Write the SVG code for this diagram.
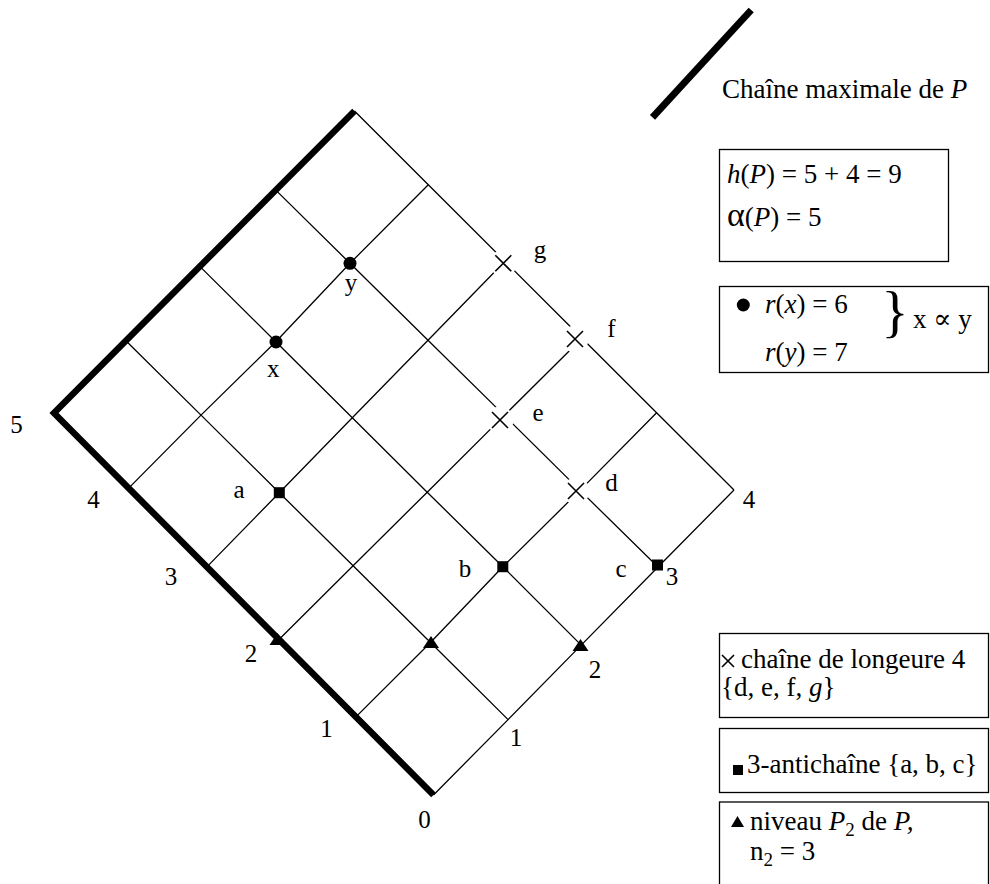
<svg xmlns="http://www.w3.org/2000/svg" width="990" height="884" viewBox="0 0 990 884">
<defs>
<style>
.g{stroke:#000;stroke-width:1.3;fill:none;stroke-linejoin:round}
.thick{stroke:#000;stroke-width:6.5;fill:none;stroke-linejoin:miter;stroke-linecap:butt}
.t{font-family:"Liberation Serif","Times New Roman","DejaVu Serif",serif;font-size:25px;fill:#000}
.bt{font-family:"Liberation Serif","Times New Roman","DejaVu Serif",serif;font-size:27px;fill:#000}
.i{font-style:italic}
.box{fill:none;stroke:#000;stroke-width:1.3}
.cr{stroke:#000;stroke-width:1.6;fill:none}
.halo{fill:#fff;stroke:none}
</style>
<g id="crossMark"><circle class="halo" r="13.5"/><path class="cr" d="M-8,-8L8,8M8,-8L-8,8"/></g>
</defs>
<rect width="990" height="884" fill="#fff"/>

<g id="connectors">
<polyline class="g" points="433.5,795 508.1,719.6 581.2,645.1 658,567 734,490"/>
<polyline class="g" points="734,490 656.6,412.7 582,338.2 505,261.3 428.3,184.7 354.5,111"/>
<polyline class="g" points="355.7,717.1 430.5,642.5 502.8,566.7 580,490.4 656.6,412.7"/>
<polyline class="g" points="279,639.5 353.1,565.8 427.2,492.2 504.3,415.4 582,338.2"/>
<polyline class="g" points="206.9,566.9 279.3,492.7 352.3,417.8 428,340.2 505,261.3"/>
<polyline class="g" points="128.7,488.1 201,415.1 275.8,341.7 350,263.3 428.3,184.7"/>
<polyline class="g" points="508.1,719.6 430.5,642.5 353.1,565.8 279.3,492.7 201,415.1 125.9,340.7"/>
<polyline class="g" points="581.2,645.1 502.8,566.7 427.2,492.2 352.3,417.8 275.8,341.7 199.8,266.4"/>
<polyline class="g" points="658,567 580,490.4 504.3,415.4 428,340.2 350,263.3 275.8,190.1"/>
</g>

<g id="level2-markers">
<polygon points="277.5,633 269.5,645 285.5,645"/>
<polygon points="431,636 423,648 439,648"/>
<polygon points="580.5,639 572.5,651 588.5,651"/>
</g>

<g id="maximal-chain">
<polyline class="thick" points="433.5,795 54,413 354.5,111"/>
</g>

<g id="antichain-markers">
<rect x="273.8" y="487.2" width="11" height="11"/>
<rect x="497.3" y="561.2" width="11" height="11"/>
<rect x="652" y="559.5" width="11" height="11"/>
</g>

<g id="xy-markers">
<circle cx="276" cy="342" r="6.5"/>
<circle cx="350" cy="263.3" r="6.5"/>
</g>

<g id="chain4-markers">
<use href="#crossMark" x="503.3" y="263.3"/>
<use href="#crossMark" x="575" y="339"/>
<use href="#crossMark" x="500" y="420"/>
<use href="#crossMark" x="576" y="491"/>
</g>

<g id="labels" class="t" text-anchor="middle">
<text x="16.5" y="433">5</text>
<text x="93.5" y="508">4</text>
<text x="171" y="585">3</text>
<text x="251" y="661.5">2</text>
<text x="326.5" y="736.5">1</text>
<text x="424.5" y="828">0</text>
<text x="516" y="746">1</text>
<text x="595" y="678">2</text>
<text x="672" y="585">3</text>
<text x="749" y="508">4</text>
<text x="239" y="498">a</text>
<text x="465" y="576.5">b</text>
<text x="621" y="576.5">c</text>
<text x="611.5" y="491">d</text>
<text x="538" y="420.5">e</text>
<text x="611.5" y="336.5">f</text>
<text x="540" y="258">g</text>
<text x="273.3" y="376.5">x</text>
<text x="351" y="291">y</text>
</g>

<g id="legend-chain">
<line x1="652.5" y1="117.3" x2="751.2" y2="10" stroke="#000" stroke-width="7"/>
<text class="bt" x="722" y="98">Chaîne maximale de <tspan class="i">P</tspan></text>
</g>

<g id="box-height">
<rect class="box" x="719.5" y="149.5" width="229" height="112"/>
<text class="bt" x="727" y="183"><tspan class="i">h</tspan>(<tspan class="i">P</tspan>) = 5 + 4 = 9</text>
<text class="bt" x="727" y="226"><tspan style="font-size:34px">α</tspan>(<tspan class="i">P</tspan>) = 5</text>
</g>

<g id="box-rank">
<rect class="box" x="719.5" y="286.5" width="269" height="86"/>
<circle cx="743.3" cy="305" r="6.5"/>
<text class="bt" x="765" y="313"><tspan class="i">r</tspan>(<tspan class="i">x</tspan>) = 6</text>
<text class="bt" x="765" y="361"><tspan class="i">r</tspan>(<tspan class="i">y</tspan>) = 7</text>
<text class="bt" x="895" y="331" style="font-size:57px" text-anchor="middle">}</text>
<text class="bt" x="913" y="328">x ∝ y</text>
</g>

<g id="box-chain4">
<rect class="box" x="719.5" y="633.5" width="269" height="84"/>
<path class="cr" d="M722,655L734,667M734,655L722,667"/>
<text class="bt" x="741" y="668">chaîne de longeure 4</text>
<text class="bt" x="721" y="696">{d, e, f, <tspan class="i">g</tspan>}</text>
</g>

<g id="box-antichain">
<rect class="box" x="719.5" y="728.5" width="269" height="64"/>
<rect x="733" y="765" width="10" height="10"/>
<text class="bt" x="747" y="773">3-antichaîne {a, b, c}</text>
</g>

<g id="box-level">
<rect class="box" x="719.5" y="802" width="269" height="100"/>
<polygon points="737.5,816 731,827 744,827"/>
<text class="bt" x="750" y="830">niveau <tspan class="i">P</tspan><tspan style="font-size:19px" dy="6">2</tspan><tspan dy="-6"> de </tspan><tspan class="i">P,</tspan></text>
<text class="bt" x="750" y="860">n<tspan style="font-size:19px" dy="6">2</tspan><tspan dy="-6"> = 3</tspan></text>
</g>
</svg>
